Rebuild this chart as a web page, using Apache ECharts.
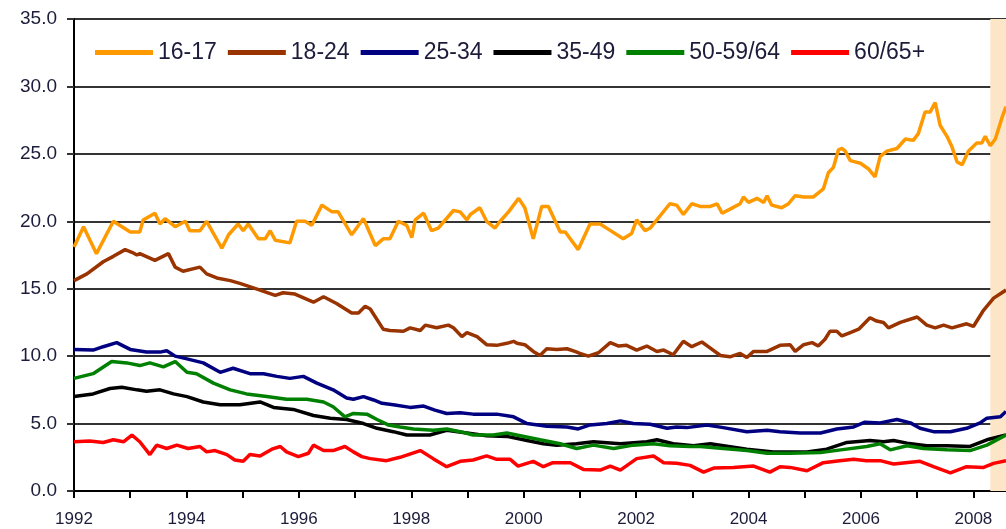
<!DOCTYPE html>
<html>
<head>
<meta charset="utf-8">
<script src="https://cdn.jsdelivr.net/npm/echarts@6/dist/echarts.min.js"></script>
<style>
  html, body { margin: 0; padding: 0; background: #fff; }
  #chart { width: 1006px; height: 529px; }
</style>
</head>
<body>
<div id="chart"></div>
<script>
// decimal years + values, one pair of arrays per age group
const years1617 = [
  1992.00,1992.17,1992.40,1992.70,1993.00,1993.17,1993.23,1993.44,1993.53,1993.62,
  1993.80,1993.98,1994.06,1994.24,1994.36,1994.48,1994.63,1994.75,1994.92,1995.01,
  1995.10,1995.28,1995.40,1995.49,1995.58,1995.84,1995.96,1996.11,1996.23,1996.41,
  1996.59,1996.70,1996.94,1997.15,1997.36,1997.50,1997.62,1997.77,1997.92,1998.01,
  1998.07,1998.22,1998.36,1998.48,1998.75,1998.87,1998.99,1999.05,1999.22,1999.34,
  1999.49,1999.58,1999.73,1999.91,2000.02,2000.17,2000.32,2000.44,2000.65,2000.74,
  2000.97,2001.18,2001.36,2001.51,2001.77,2001.92,2002.01,2002.16,2002.25,2002.60,
  2002.72,2002.84,2002.99,2003.14,2003.32,2003.44,2003.53,2003.67,2003.85,2003.91,
  2004.00,2004.15,2004.27,2004.33,2004.41,2004.59,2004.71,2004.83,2004.98,2005.15,
  2005.33,2005.42,2005.51,2005.60,2005.66,2005.72,2005.81,2005.99,2006.13,2006.25,
  2006.34,2006.46,2006.64,2006.79,2006.93,2007.02,2007.14,2007.23,2007.32,2007.41,
  2007.53,2007.62,2007.71,2007.80,2007.91,2008.06,2008.15,2008.21,2008.30,2008.39,
  2008.51,2008.58
];
const vals1617 = [
  18.1,19.6,17.6,20.0,19.2,19.2,20.1,20.6,19.8,20.2,
  19.6,20.0,19.3,19.3,20.0,19.1,18.0,19.0,19.8,19.3,
  19.8,18.7,18.7,19.3,18.6,18.4,20.0,20.0,19.7,21.2,
  20.7,20.7,19.0,20.2,18.2,18.7,18.7,20.0,19.7,18.8,
  20.1,20.6,19.3,19.5,20.8,20.7,20.1,20.5,21.0,20.0,
  19.5,20.0,20.7,21.7,21.0,18.7,21.1,21.1,19.2,19.2,
  17.9,19.8,19.8,19.4,18.7,19.1,20.1,19.3,19.5,21.3,
  21.2,20.5,21.3,21.1,21.1,21.3,20.6,20.9,21.3,21.8,
  21.4,21.7,21.4,21.9,21.2,21.0,21.3,21.9,21.8,21.8,
  22.4,23.6,24.0,25.3,25.4,25.2,24.5,24.3,23.9,23.3,
  24.8,25.2,25.4,26.1,26.0,26.5,28.1,28.1,28.8,27.1,
  26.3,25.5,24.4,24.2,25.2,25.8,25.8,26.3,25.6,26.1,
  27.7,28.5
];

const years1824 = [
  1992.00,1992.23,1992.52,1992.70,1992.91,1993.03,1993.12,1993.17,1993.44,1993.68,
  1993.80,1993.94,1994.24,1994.36,1994.54,1994.78,1994.95,1995.31,1995.58,1995.72,
  1995.93,1996.26,1996.44,1996.67,1996.94,1997.06,1997.18,1997.27,1997.50,1997.62,
  1997.86,1997.98,1998.16,1998.25,1998.45,1998.66,1998.75,1998.90,1998.99,1999.17,
  1999.34,1999.52,1999.70,1999.82,1999.88,2000.02,2000.17,2000.29,2000.41,2000.59,
  2000.77,2000.91,2001.00,2001.15,2001.33,2001.54,2001.69,2001.83,2002.01,2002.19,
  2002.37,2002.49,2002.66,2002.84,2002.99,2003.17,2003.32,2003.50,2003.67,2003.85,
  2003.97,2004.09,2004.33,2004.56,2004.74,2004.83,2004.98,2005.13,2005.24,2005.36,
  2005.45,2005.57,2005.66,2005.81,2005.96,2006.16,2006.28,2006.40,2006.49,2006.70,
  2007.00,2007.17,2007.32,2007.47,2007.62,2007.88,2008.00,2008.18,2008.36,2008.58
];
const vals1824 = [
  15.6,16.1,17.0,17.4,17.9,17.7,17.5,17.6,17.1,17.6,
  16.6,16.3,16.6,16.1,15.8,15.6,15.4,14.9,14.5,14.7,
  14.6,14.0,14.4,13.9,13.2,13.2,13.7,13.5,12.0,11.9,
  11.85,12.1,11.9,12.3,12.1,12.3,12.1,11.45,11.75,11.45,
  10.85,10.8,10.95,11.1,10.95,10.85,10.35,10.05,10.55,10.5,
  10.55,10.35,10.2,10.0,10.25,11.0,10.75,10.8,10.45,10.75,
  10.35,10.45,10.1,11.1,10.7,11.05,10.6,10.05,9.95,10.2,
  9.9,10.35,10.35,10.8,10.85,10.35,10.85,11.0,10.75,11.25,
  11.85,11.85,11.5,11.75,12.0,12.85,12.6,12.5,12.1,12.5,
  12.9,12.3,12.1,12.3,12.1,12.4,12.2,13.4,14.3,14.9
];

const years2534 = [
  1992.00,1992.34,1992.52,1992.76,1993.00,1993.29,1993.53,1993.65,1993.80,1994.01,
  1994.30,1994.60,1994.83,1995.13,1995.37,1995.61,1995.84,1996.08,1996.32,1996.61,
  1996.85,1996.97,1997.15,1997.33,1997.48,1997.68,1997.98,1998.22,1998.42,1998.63,
  1998.87,1999.10,1999.52,1999.82,2000.06,2000.41,2000.77,2000.97,2001.18,2001.48,
  2001.72,2001.95,2002.25,2002.55,2002.72,2002.90,2003.26,2003.55,2003.97,2004.33,
  2004.56,2004.92,2005.28,2005.57,2005.87,2006.07,2006.34,2006.64,2006.88,2007.05,
  2007.29,2007.59,2007.88,2008.12,2008.24,2008.48,2008.58
];
const vals2534 = [
  10.5,10.45,10.7,11.0,10.5,10.3,10.3,10.4,10.0,9.8,
  9.5,8.8,9.1,8.7,8.7,8.5,8.35,8.5,8.0,7.5,
  6.9,6.8,7.0,6.75,6.5,6.4,6.2,6.3,6.0,5.75,
  5.8,5.7,5.7,5.5,5.0,4.8,4.75,4.6,4.9,5.0,
  5.2,5.0,4.95,4.65,4.75,4.7,4.9,4.7,4.4,4.5,
  4.4,4.3,4.3,4.6,4.75,5.1,5.05,5.3,5.05,4.65,
  4.4,4.4,4.65,5.05,5.4,5.5,5.9
];

const years3549 = [
  1992.00,1992.34,1992.64,1992.85,1993.12,1993.29,1993.53,1993.77,1994.01,1994.30,
  1994.60,1994.95,1995.31,1995.55,1995.90,1996.26,1996.56,1996.85,1997.15,1997.39,
  1997.68,1997.92,1998.33,1998.63,1998.99,1999.34,1999.70,2000.06,2000.35,2000.59,
  2000.94,2001.24,2001.72,2002.19,2002.37,2002.66,2003.02,2003.32,2003.97,2004.44,
  2005.04,2005.39,2005.75,2006.16,2006.40,2006.58,2006.82,2007.17,2007.53,2007.94,
  2008.24,2008.58
];
const vals3549 = [
  7.0,7.2,7.6,7.7,7.5,7.4,7.5,7.2,7.0,6.6,
  6.4,6.4,6.6,6.2,6.05,5.6,5.4,5.3,5.0,4.65,
  4.4,4.15,4.15,4.5,4.3,4.1,4.05,3.75,3.5,3.4,
  3.5,3.65,3.5,3.65,3.8,3.5,3.35,3.5,3.1,2.9,
  2.9,3.1,3.6,3.75,3.65,3.75,3.55,3.35,3.35,3.3,
  3.8,4.15
];

const years5064 = [
  1992.00,1992.34,1992.67,1992.94,1993.17,1993.35,1993.59,1993.80,1994.01,1994.18,
  1994.48,1994.78,1995.07,1995.43,1995.78,1996.14,1996.44,1996.61,1996.82,1996.97,
  1997.21,1997.39,1997.59,1997.80,1998.04,1998.39,1998.63,1998.87,1999.10,1999.46,
  1999.70,1999.94,2000.29,2000.65,2000.94,2001.24,2001.60,2001.95,2002.31,2002.60,
  2002.96,2003.14,2003.55,2003.97,2004.33,2004.74,2005.28,2005.64,2006.10,2006.34,
  2006.52,2006.82,2007.11,2007.53,2007.94,2008.24,2008.58
];
const vals5064 = [
  8.35,8.7,9.6,9.5,9.3,9.5,9.2,9.6,8.8,8.7,
  8.0,7.5,7.2,7.0,6.8,6.8,6.6,6.25,5.5,5.75,
  5.7,5.3,4.9,4.75,4.6,4.5,4.6,4.4,4.15,4.15,
  4.3,4.1,3.8,3.5,3.15,3.4,3.15,3.4,3.5,3.35,
  3.3,3.3,3.15,3.0,2.8,2.8,2.85,3.05,3.3,3.5,
  3.05,3.35,3.15,3.05,3.0,3.4,4.15
];

const years65 = [
  1992.00,1992.28,1992.52,1992.70,1992.88,1993.03,1993.17,1993.35,1993.47,1993.65,
  1993.83,1994.03,1994.24,1994.36,1994.51,1994.72,1994.86,1995.01,1995.13,1995.31,
  1995.52,1995.67,1995.78,1995.99,1996.17,1996.26,1996.44,1996.61,1996.82,1996.97,
  1997.12,1997.27,1997.56,1997.80,1998.16,1998.39,1998.63,1998.87,1999.10,1999.34,
  1999.52,1999.76,1999.90,2000.17,2000.35,2000.52,2000.83,2001.06,2001.36,2001.54,
  2001.72,2002.01,2002.31,2002.49,2002.72,2002.96,2003.20,2003.38,2003.73,2004.09,
  2004.38,2004.56,2004.74,2005.04,2005.33,2005.62,2005.87,2006.10,2006.34,2006.58,
  2007.05,2007.29,2007.59,2007.88,2008.18,2008.36,2008.58
];
const vals65 = [
  3.65,3.7,3.6,3.8,3.65,4.15,3.65,2.7,3.4,3.15,
  3.4,3.15,3.3,2.9,3.0,2.7,2.3,2.2,2.7,2.6,
  3.1,3.3,2.9,2.55,2.8,3.4,3.0,3.0,3.3,2.9,
  2.55,2.4,2.25,2.5,3.0,2.4,1.8,2.2,2.3,2.6,
  2.35,2.35,1.85,2.2,1.8,2.1,2.1,1.6,1.55,1.85,
  1.55,2.4,2.6,2.1,2.05,1.9,1.4,1.7,1.75,1.85,
  1.4,1.8,1.75,1.5,2.1,2.25,2.35,2.25,2.25,2.0,
  2.2,1.8,1.35,1.8,1.75,2.05,2.25
];

const seriesNames = ["16-17", "18-24", "25-34", "35-49", "50-59/64", "60/65+"];
const seriesColors = ["#ff9900", "#993300", "#000080", "#000000", "#008000", "#ff0000"];
const seriesYears = [years1617, years1824, years2534, years3549, years5064, years65];
const seriesVals = [vals1617, vals1824, vals2534, vals3549, vals5064, vals65];

const shadeStart = 2008.3;
const xMin = 1992;
const xMax = 2008.58;

const textColor = "#1c1c3a";

const chart = echarts.init(document.getElementById("chart"), null, { renderer: "canvas" });

const series = seriesNames.map(function (name, i) {
  const s = {
    name: name,
    type: "line",
    data: seriesYears[i].map(function (y, j) { return [y, seriesVals[i][j]]; }),
    showSymbol: false,
    symbol: "none",
    smooth: false,
    lineStyle: { color: seriesColors[i], width: 3.5 },
    itemStyle: { color: seriesColors[i] },
    emphasis: { disabled: true },
    z: 3 + i,
  };
  if (i === 0) {
    // latest period shading
    s.markArea = {
      silent: true,
      itemStyle: { color: "#fde6c8" },
      data: [[{ xAxis: shadeStart }, { xAxis: xMax }]],
    };
  }
  return s;
});

const option = {
  backgroundColor: "#fff",
  animation: false,
  grid: { left: 74, right: 0, top: 19, bottom: 38, containLabel: false },
  legend: {
    left: 90,
    top: 36,
    icon: "rect",
    itemWidth: 58,
    itemHeight: 5,
    itemGap: 11,
    textStyle: { fontFamily: "Liberation Sans, Arial", fontSize: 23, color: textColor },
    data: seriesNames,
  },
  xAxis: {
    type: "value",
    min: xMin,
    max: xMax,
    interval: 1,
    axisLine: { show: true, onZero: false, lineStyle: { color: "#000", width: 2 } },
    axisTick: { show: true, inside: false, length: 7, lineStyle: { color: "#000", width: 2 } },
    splitLine: { show: false },
    axisLabel: {
      margin: 20,
      fontFamily: "Liberation Sans, Arial",
      fontSize: 17,
      color: textColor,
      showMaxLabel: false,
      formatter: function (v) {
        return Number.isInteger(v) && v % 2 === 0 ? String(v) : "";
      },
    },
  },
  yAxis: {
    type: "value",
    min: 0,
    max: 35,
    interval: 5,
    axisLine: { show: true, lineStyle: { color: "#000", width: 2 } },
    axisTick: { show: true, inside: false, length: 7, lineStyle: { color: "#333", width: 2 } },
    splitLine: { show: true, lineStyle: { color: "#333", width: 2 } },
    axisLabel: {
      margin: 17,
      fontFamily: "Liberation Sans, Arial",
      fontSize: 19,
      color: textColor,
      formatter: function (v) { return v.toFixed(1); },
    },
  },
  series: series,
};

chart.setOption(option);
</script>
</body>
</html>
